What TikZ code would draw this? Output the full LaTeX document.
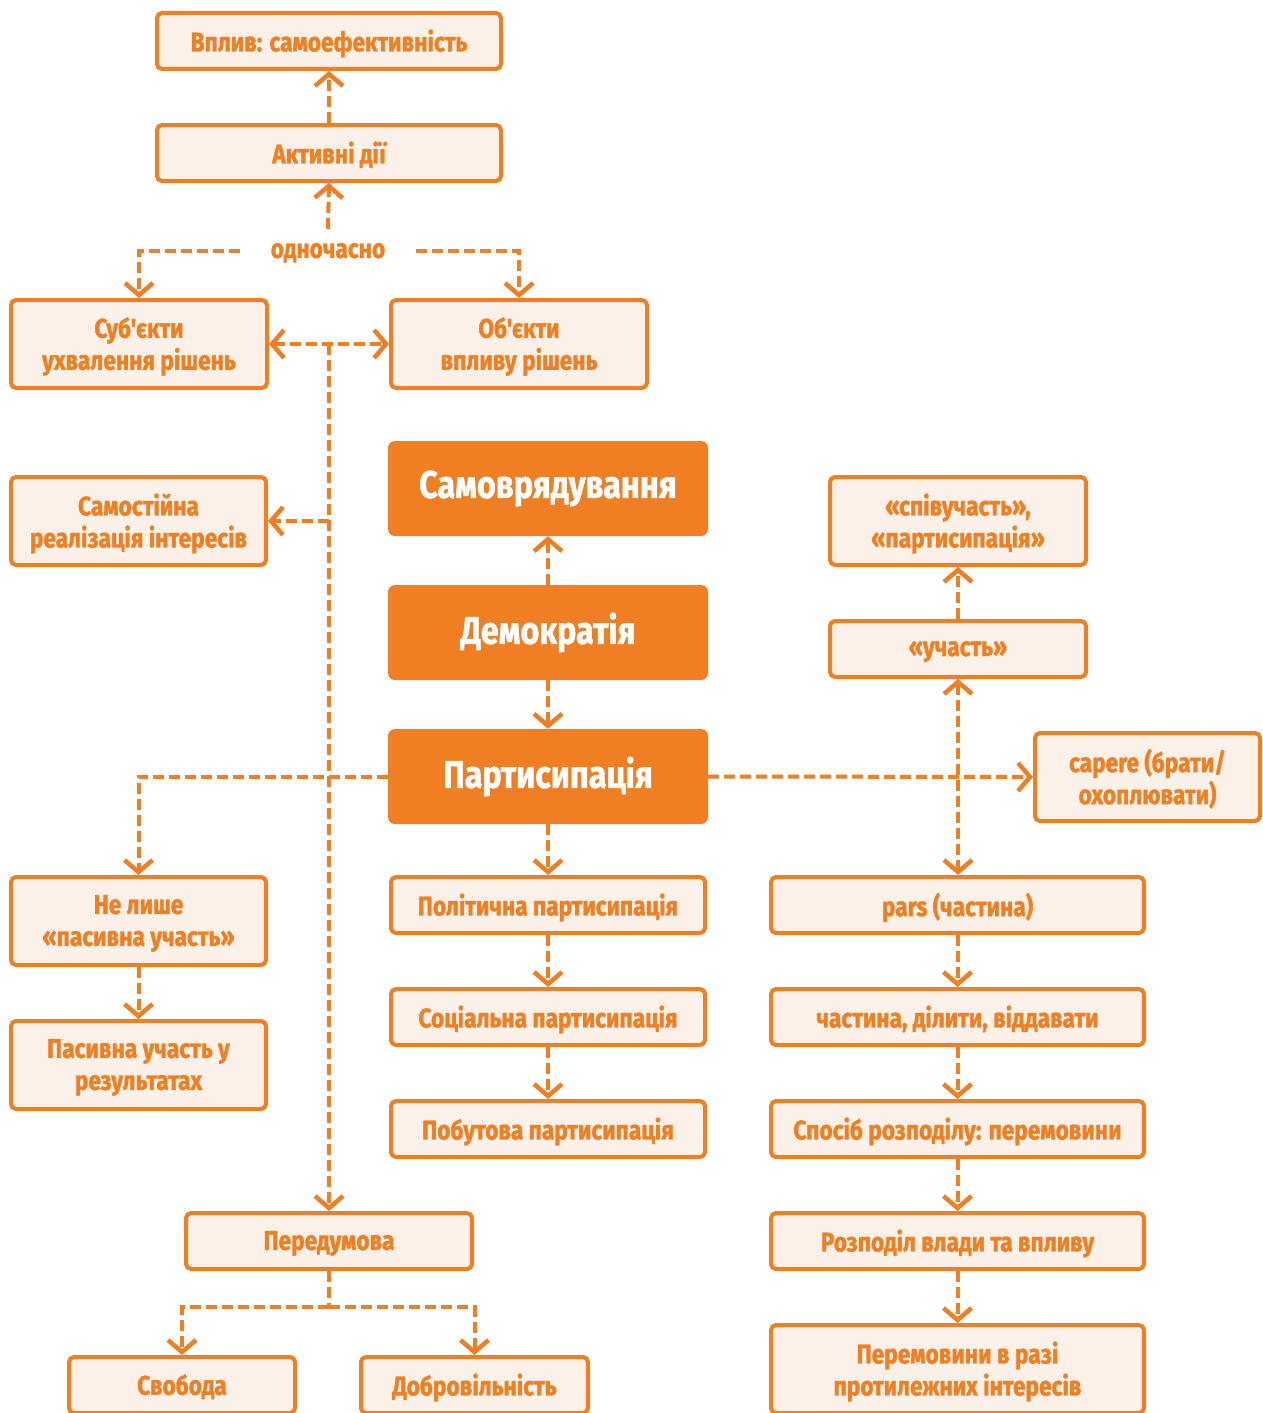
\documentclass[tikz,border=0pt]{standalone}
\usepackage{fontspec}
\newfontfamily\din{Fira Sans}[FakeStretch=0.84,FakeBold=1.3]
\usetikzlibrary{arrows.meta}
\definecolor{org}{HTML}{EF7F22}
\definecolor{cream}{HTML}{FCF1E9}
\tikzset{
  box/.style={draw=org, fill=cream, line width=4pt, rounded corners=5pt,
    text=org, align=center, inner sep=0pt, text depth=1pt,
    font=\din\bfseries\fontsize{27}{32}\selectfont},
  bigbox/.style={fill=org, draw=none, rounded corners=7pt, text=white,
    align=center, inner sep=0pt, minimum width=320pt, minimum height=95pt,
    font=\din\bfseries\fontsize{38.5}{42}\selectfont},
  tip/.tip={Straight Barb[length=12pt,width=28pt,line width=4.5pt]},
  link/.style={draw=org, line width=4pt, dash pattern=on 11pt off 5pt, -tip},
  both/.style={link, tip-tip},
}
\begin{document}
\begin{tikzpicture}[x=1pt,y=-1pt]
\useasboundingbox (0,0) rectangle (1263,1413);

% upper left column
\node[box, minimum width=344, minimum height=56] (vplyv) at (329,41) {Вплив: самоефективність};
\node[box, minimum width=344, minimum height=56] (aktyv) at (329,153) {Активні дії};
\node[text=org, font=\din\bfseries\fontsize{27}{32}\selectfont, text depth=1pt, inner xsep=31pt, inner ysep=14pt] (odn) at (328,251) {одночасно};
\node[box, minimum width=256, minimum height=88] (sub) at (139,344) {Суб'єкти\\ухвалення рішень};
\node[box, minimum width=256, minimum height=88] (ob) at (519,344) {Об'єкти\\впливу рішень};
\node[box, minimum width=255, minimum height=88] (samost) at (138.5,521) {Самостійна\\реалізація інтересів};

% central column
\node[bigbox] (samovr) at (548,488.5) {Самоврядування};
\node[bigbox] (demo) at (548,632.5) {Демократія};
\node[bigbox] (part) at (548,776.5) {Партисипація};
\node[box, minimum width=314, minimum height=56] (polit) at (548,905) {Політична партисипація};
\node[box, minimum width=314, minimum height=56] (soc) at (548,1017) {Соціальна партисипація};
\node[box, minimum width=314, minimum height=56] (pobut) at (548,1129) {Побутова партисипація};

% left lower column
\node[box, minimum width=255, minimum height=88] (nelyshe) at (138.5,921) {Не лише\\«пасивна участь»};
\node[box, minimum width=255, minimum height=88] (pasyv) at (138.5,1065) {Пасивна участь у\\результатах};
\node[box, minimum width=286, minimum height=56] (pered) at (329,1241) {Передумова};
\node[box, minimum width=226, minimum height=56] (svob) at (182,1385) {Свобода};
\node[box, minimum width=227, minimum height=56] (dobr) at (474.5,1385) {Добровільність};

% right column
\node[box, minimum width=256, minimum height=88] (spiv) at (958,521) {«співучасть»,\\«партисипація»};
\node[box, minimum width=256, minimum height=56] (uchast) at (958,649) {«участь»};
\node[box, minimum width=225, minimum height=88] (capere) at (1147.5,777) {capere (брати/\\охоплювати)};
\node[box, minimum width=373, minimum height=56] (pars) at (957.5,905) {pars (частина)};
\node[box, minimum width=373, minimum height=56] (chast) at (957.5,1017) {частина, ділити, віддавати};
\node[box, minimum width=373, minimum height=56] (sposib) at (957.5,1129) {Спосіб розподілу: перемовини};
\node[box, minimum width=373, minimum height=56] (rozpod) at (957.5,1241) {Розподіл влади та впливу};
\node[box, minimum width=373, minimum height=88] (peremov) at (957.5,1369) {Перемовини в разі\\протилежних інтересів};

% connectors: upper left
\draw[link] (aktyv.north) -- (vplyv.south);
\draw[link] (odn.north) -- (aktyv.south);
\draw[link] (odn.west) -| (sub.north);
\draw[link] (odn.east) -| (ob.north);
\draw[both] (sub.east) -- (ob.west);
\coordinate (trunk) at (329,344);
\draw[link] (trunk) -- (pered.north);
\draw[link] (trunk |- samost.east) -- (samost.east);

% connectors: central column
\draw[link] (demo.north) -- (samovr.south);
\draw[link] (demo.south) -- (part.north);
\draw[link] (part.south) -- (polit.north);
\draw[link] (polit.south) -- (soc.north);
\draw[link] (soc.south) -- (pobut.north);
\draw[link] (part.west) -| (nelyshe.north);
\draw[link] (nelyshe.south) -- (pasyv.north);
\draw[link] (part.east) -- (capere.west);

% connectors: right column
\draw[link] (uchast.north) -- (spiv.south);
\draw[both] (uchast.south) -- (uchast.south |- pars.north);
\draw[link] (pars.south) -- (chast.north);
\draw[link] (chast.south) -- (sposib.north);
\draw[link] (sposib.south) -- (rozpod.north);
\draw[link] (rozpod.south) -- (peremov.north);

% connectors: bottom fork
\coordinate (fork) at (329,1307);
\draw[link, -] (pered.south) -- (fork);
\draw[link] (fork) -| (svob.north);
\draw[link] (fork) -| (dobr.north);
\end{tikzpicture}
\end{document}
